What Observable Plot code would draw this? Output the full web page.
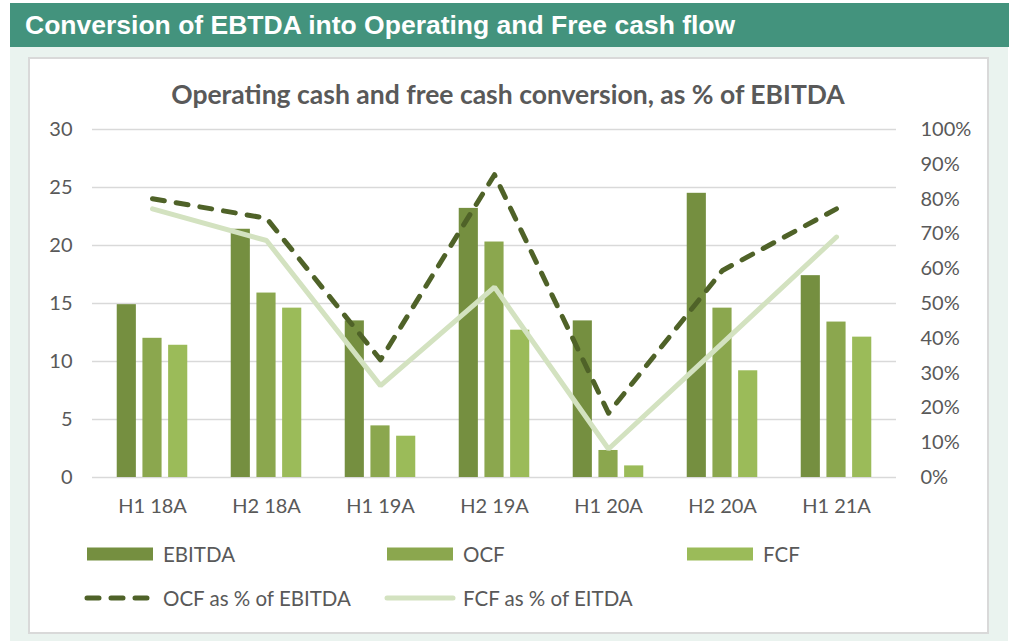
<!DOCTYPE html>
<html><head><meta charset="utf-8">
<script src="https://cdn.jsdelivr.net/npm/d3@7"></script>
<script src="https://cdn.jsdelivr.net/npm/@observablehq/plot@0.6"></script>
<style>
body{margin:0;background:#fff;width:1014px;height:641px;overflow:hidden;position:relative;font-family:Lato,"Open Sans",sans-serif}
#hdr{position:absolute;left:10px;top:3px;width:999px;height:44px;background:#43937D;color:#fff;font:bold 26.5px "Liberation Sans",Arial,sans-serif;line-height:44px;padding-left:15px;box-sizing:border-box;white-space:nowrap}
#bg{position:absolute;left:10px;top:47px;width:998px;height:594px;background:#EAF3EF}
#panel{position:absolute;left:28px;top:57px;width:961px;height:577px;background:#fff;border:2px solid #D9D9D9;box-sizing:border-box}
#title{position:absolute;left:0;width:1016px;top:78px;text-align:center;font-weight:bold;font-size:26.5px;line-height:32px;color:#595959;white-space:nowrap}
#chart{position:absolute;left:0;top:110px}
.item{position:absolute;display:flex;align-items:center;font-size:20.5px;color:#595959;white-space:nowrap;height:20px}
.item svg{margin-right:7px;flex:none}
</style>
</head><body>
<div id="hdr">Conversion of EBTDA into Operating and Free cash flow</div>
<div id="bg"></div>
<div id="panel"></div>
<div id="title">Operating cash and free cash conversion, as % of EBITDA</div>
<div id="chart"></div>
<div id="legend"></div>
<script>
const categories = ["H1 18A","H2 18A","H1 19A","H2 19A","H1 20A","H2 20A","H1 21A"];
const ebitda = [14.9, 21.4, 13.5, 23.2, 13.5, 24.5, 17.4];
const ocf    = [12.0, 15.9, 4.45, 20.3, 2.33, 14.6, 13.4];
const fcf    = [11.4, 14.6, 3.56, 12.7, 1.0, 9.2, 12.1];
const ocfPct = [80.1, 74.5, 33.8, 87.0, 18.5, 59.5, 77.2];
const fcfPct = [77.2, 68.1, 26.4, 54.7, 8.2, 38.6, 69.1];
const leftTicks = [0, 5, 10, 15, 20, 25, 30];
const rightTicks = [0, 10, 20, 30, 40, 50, 60, 70, 80, 90, 100];
const seriesNames = ["EBITDA", "OCF", "FCF", "OCF as % of EBITDA", "FCF as % of EITDA"];

const colors = {EBITDA:"#758F40", OCF:"#8BA74E", FCF:"#9BBB59", ocfPct:"#4F6228", fcfPct:"#D3E2C0"};
const leftMax = 30, rightMax = 100;
const toLeft = p => p * leftMax / rightMax;

const W = 1014, H = 420;
const mL = 92, mR = 118, mT = 19, mB = 53;
const band = (W - mL - mR) / categories.length;
const barW = 20, step = 25.7;
const inset = (band - barW) / 2;
const axisFont = 20;

const barMark = (vals, color, dx) => Plot.barY(categories, {
  x: d => d, y: (d, i) => vals[i], fill: color, dx,
  insetLeft: inset, insetRight: inset
});

const chart = Plot.plot({
  width: W, height: H,
  marginLeft: mL, marginRight: mR, marginTop: mT, marginBottom: mB,
  style: {fontFamily: "Lato, 'Open Sans', sans-serif", fontSize: axisFont + "px", color: "#595959", background: "transparent"},
  x: {domain: categories, padding: 0},
  y: {domain: [0, leftMax]},
  marks: [
    Plot.gridY(leftTicks, {stroke: "#D9D9D9", strokeOpacity: 1, strokeWidth: 1.5}),
    barMark(ebitda, colors.EBITDA, -step),
    barMark(ocf, colors.OCF, 0),
    barMark(fcf, colors.FCF, step),
    Plot.line(categories, {x: d => d, y: (d, i) => toLeft(fcfPct[i]), stroke: colors.fcfPct, strokeWidth: 5, strokeLinejoin: "miter"}),
    Plot.line(categories, {x: d => d, y: (d, i) => toLeft(ocfPct[i]), stroke: colors.ocfPct, strokeWidth: 5, strokeDasharray: "12,12", strokeLinecap: "round"}),
    Plot.axisY(leftTicks, {anchor: "left", tickSize: 0, tickPadding: 20, label: null, fontSize: axisFont}),
    Plot.axisY(rightTicks.map(toLeft), {anchor: "right", tickSize: 0, tickPadding: 24, label: null, fontSize: axisFont,
      tickFormat: d => Math.round(d / leftMax * rightMax) + "%"}),
    Plot.axisX({anchor: "bottom", tickSize: 0, tickPadding: 21, label: null, fontSize: axisFont})
  ]
});
document.getElementById("chart").appendChild(chart);

// legend
const legend = document.getElementById("legend");
const legendItems = [
  {name: seriesNames[0], type: "bar", color: colors.EBITDA, left: 84, top: 544},
  {name: seriesNames[1], type: "bar", color: colors.OCF, left: 384, top: 544},
  {name: seriesNames[2], type: "bar", color: colors.FCF, left: 684, top: 544},
  {name: seriesNames[3], type: "dash", color: colors.ocfPct, left: 84, top: 588},
  {name: seriesNames[4], type: "line", color: colors.fcfPct, left: 384, top: 588}
];
for (const it of legendItems) {
  const div = document.createElement("div");
  div.className = "item";
  div.style.left = it.left + "px";
  div.style.top = it.top + "px";
  let sw;
  if (it.type === "bar") sw = `<rect x="3" y="3.5" width="66" height="13" fill="${it.color}"/>`;
  else if (it.type === "dash") sw = `<line x1="3" x2="69" y1="10" y2="10" stroke="${it.color}" stroke-width="5" stroke-dasharray="12,12" stroke-linecap="round"/>`;
  else sw = `<line x1="3" x2="69" y1="10" y2="10" stroke="${it.color}" stroke-width="5" stroke-linecap="round"/>`;
  div.innerHTML = `<svg width="72" height="20">${sw}</svg><span>${it.name}</span>`;
  legend.appendChild(div);
}
</script>
</body></html>
